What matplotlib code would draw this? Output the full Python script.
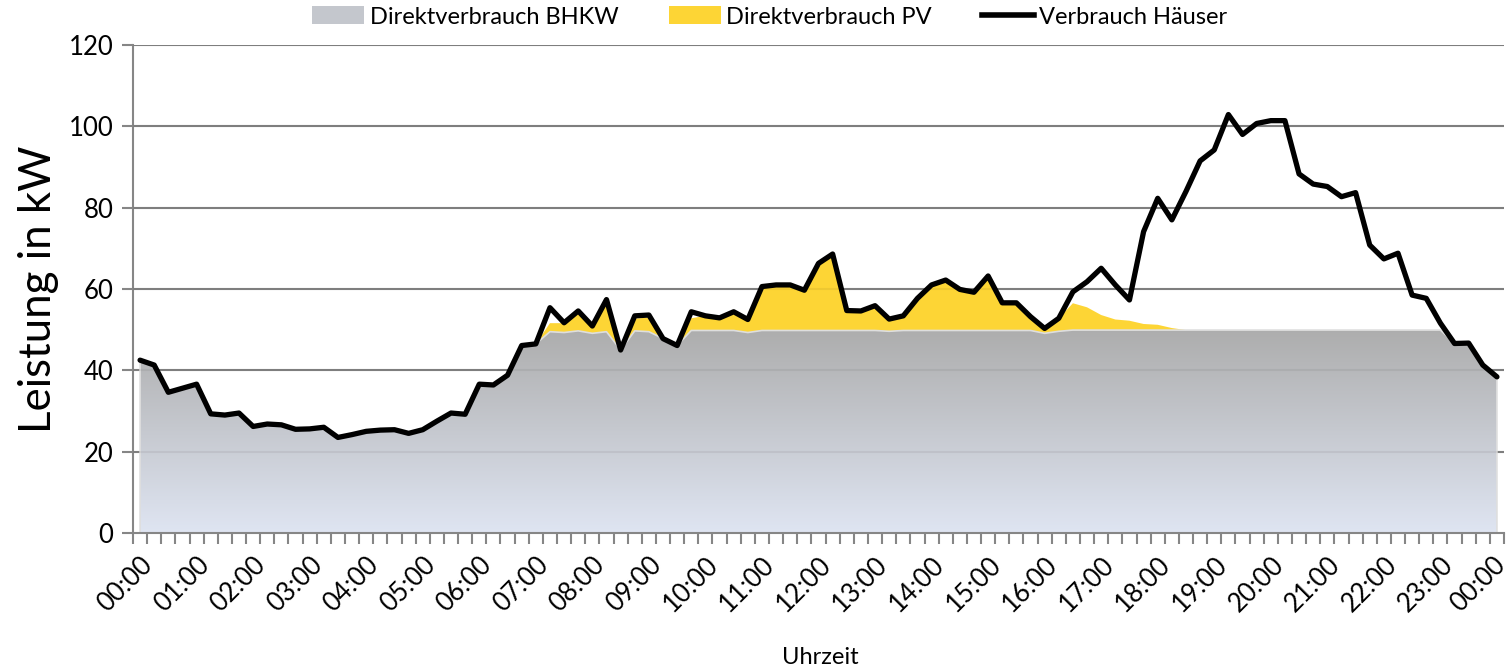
import numpy as np
import matplotlib
matplotlib.use("Agg")
import matplotlib.pyplot as plt
import matplotlib.transforms as mtransforms
from matplotlib.colors import LinearSegmentedColormap
from matplotlib.lines import Line2D
from matplotlib.patches import Patch

plt.rcParams['font.family'] = ['Lato', 'DejaVu Sans']

# ---- data (15-minute steps, 00:00 .. 24:00) ----
hour_labels = ["00:00", "01:00", "02:00", "03:00", "04:00", "05:00", "06:00", "07:00",
               "08:00", "09:00", "10:00", "11:00", "12:00", "13:00", "14:00", "15:00",
               "16:00", "17:00", "18:00", "19:00", "20:00", "21:00", "22:00", "23:00", "00:00"]

verbrauch = [42.5, 41.3, 34.6, 35.6, 36.6, 29.3, 29.0, 29.5, 26.2, 26.8, 26.6, 25.5,
             25.6, 26.0, 23.5, 24.2, 25.0, 25.3, 25.4, 24.5, 25.4, 27.5, 29.5, 29.2,
             36.6, 36.4, 38.8, 46.1, 46.5, 55.4, 51.7, 54.6, 50.9, 57.4, 45.0, 53.4,
             53.6, 47.8, 46.1, 54.4, 53.4, 52.9, 54.4, 52.5, 60.6, 61.0, 61.0, 59.7,
             66.3, 68.6, 54.7, 54.6, 55.9, 52.6, 53.4, 57.7, 61.0, 62.2, 59.9, 59.2,
             63.2, 56.6, 56.6, 53.2, 50.3, 52.8, 59.3, 61.8, 65.1, 61.0, 57.3, 74.1,
             82.3, 77.0, 84.0, 91.5, 94.2, 102.9, 98.0, 100.7, 101.4, 101.4, 88.3, 85.8,
             85.2, 82.7, 83.7, 70.8, 67.4, 68.8, 58.5, 57.7, 51.6, 46.6, 46.7, 41.3,
             38.4]

bhkw = [42.5, 41.3, 34.6, 35.6, 36.6, 29.3, 29.0, 29.5, 26.2, 26.8, 26.6, 25.5,
        25.6, 26.0, 23.5, 24.2, 25.0, 25.3, 25.4, 24.5, 25.4, 27.5, 29.5, 29.2,
        36.6, 36.4, 38.8, 46.1, 46.5, 49.5, 49.3, 49.7, 49.1, 49.5, 45.0, 49.7,
        49.5, 47.8, 46.1, 49.8, 49.8, 49.8, 49.8, 49.3, 49.8, 49.8, 49.8, 49.8,
        49.8, 49.8, 49.8, 49.8, 49.8, 49.6, 49.8, 49.8, 49.8, 49.8, 49.8, 49.8,
        49.8, 49.8, 49.8, 49.8, 49.1, 49.6, 49.9, 49.9, 49.9, 49.9, 49.9, 49.9,
        49.9, 49.9, 49.9, 49.9, 49.9, 49.9, 49.9, 49.9, 49.9, 49.9, 49.9, 49.9,
        49.9, 49.9, 49.9, 49.9, 49.9, 49.9, 49.9, 49.9, 49.9, 46.6, 46.7, 41.3,
        38.4]

pv = [0, 0, 0, 0, 0, 0, 0, 0, 0, 0, 0, 0,
      0, 0, 0, 0, 0, 0, 0, 0, 0, 0, 0, 0,
      0, 0, 0, 0, 0, 2.1, 2.3, 4.9, 1.8, 7.9, 0, 3.0,
      3.5, 0, 0, 3.0, 3.6, 3.1, 4.6, 3.2, 10.8, 11.2, 11.2, 9.9,
      16.5, 18.8, 4.9, 4.8, 6.1, 3.0, 3.6, 7.9, 11.2, 12.4, 10.1, 9.4,
      13.4, 6.8, 6.8, 3.4, 1.2, 3.2, 6.6, 5.6, 3.7, 2.6, 2.3, 1.5,
      1.3, 0.5, 0, 0, 0, 0, 0, 0, 0, 0, 0, 0,
      0, 0, 0, 0, 0, 0, 0, 0, 0, 0, 0, 0,
      0]

x = np.arange(len(verbrauch))
bhkw_a = np.array(bhkw)
top_pv = bhkw_a + np.array(pv)

W, H = 1506, 670
fig = plt.figure(figsize=(W / 100, H / 100), dpi=100)
ax = fig.add_axes([133 / W, 1 - 533 / H, (1504 - 133) / W, 488 / H])

grid_c = '#868686'
# grid behind
for v in range(20, 121, 20):
    ax.axhline(v, color=grid_c, lw=1.5, zorder=0.5)

# gradient gray area
cmap = LinearSegmentedColormap.from_list('g', ['#dfe5f2', '#adadad'])
grad = np.linspace(0, 1, 256).reshape(-1, 1)
poly = ax.fill_between(x, 0, bhkw_a, facecolor='none', edgecolor='none', zorder=1)
img = ax.imshow(grad, extent=[x[0], x[-1], 0, 50], aspect='auto', cmap=cmap,
                origin='lower', zorder=1, interpolation='bilinear')
img.set_clip_path(poly.get_paths()[0], transform=ax.transData)

# yellow PV area
ax.fill_between(x, bhkw_a, top_pv, facecolor='#fdd535', edgecolor='none', zorder=2)
# light outline of gray area
ax.plot(np.r_[x[0], x, x[-1]], np.r_[0, bhkw_a, 0], color='#dedede', lw=1.2, zorder=2.5)

# faint grid overlay (areas are slightly transparent in original)
for v in range(20, 121, 20):
    ax.axhline(v, color='black', lw=1.5, alpha=0.06, zorder=2.6)

# consumption line
ax.plot(x, verbrauch, color='black', lw=3.8, solid_joinstyle='round',
        solid_capstyle='round', zorder=4)

ax.set_xlim(-0.5, len(x) - 0.5)
ax.set_ylim(0, 120)

for s in ['top', 'right']:
    ax.spines[s].set_visible(False)
for s in ['left', 'bottom']:
    ax.spines[s].set_color(grid_c)
    ax.spines[s].set_linewidth(1.5)
ax.spines['bottom'].set_zorder(5)

ax.set_yticks(range(0, 121, 20))
ax.tick_params(axis='y', length=8, width=1.5, color=grid_c, labelsize=18.5, pad=6,
               labelcolor='black')

ax.set_xticks(np.arange(-0.5, len(x), 1.0), minor=True)
ax.set_xticks(x[::4])
ax.set_xticklabels(hour_labels, rotation=45, ha='right', va='top', rotation_mode='anchor')
ax.tick_params(axis='x', which='major', length=0, labelsize=18.5, pad=14)
ax.tick_params(axis='x', which='minor', length=8, width=1.5, color=grid_c)
last = ax.get_xticklabels()[-1]
last.set_transform(last.get_transform() +
                   mtransforms.ScaledTranslation(-4 / 100, 0, fig.dpi_scale_trans))

ax.set_ylabel('Leistung in kW', fontsize=31.5)
ax.yaxis.set_label_coords(-74 / 1371, 0.5)
fig.text(820 / W, 1 - 657 / H, 'Uhrzeit', ha='center', va='center', fontsize=17)

handles = [Patch(facecolor='#c4c7cd', edgecolor='none'),
           Patch(facecolor='#fdd535', edgecolor='none'),
           Line2D([0], [0], color='black', lw=4)]
fig.legend(handles, ['Direktverbrauch BHKW', 'Direktverbrauch PV', 'Verbrauch Häuser'],
           loc='center', bbox_to_anchor=(770 / W, 1 - 17 / H), ncol=3, frameon=False,
           fontsize=17, handlelength=2.2, handleheight=0.8, handletextpad=0.25,
           columnspacing=2.1)

fig.savefig('out.png', dpi=100)
